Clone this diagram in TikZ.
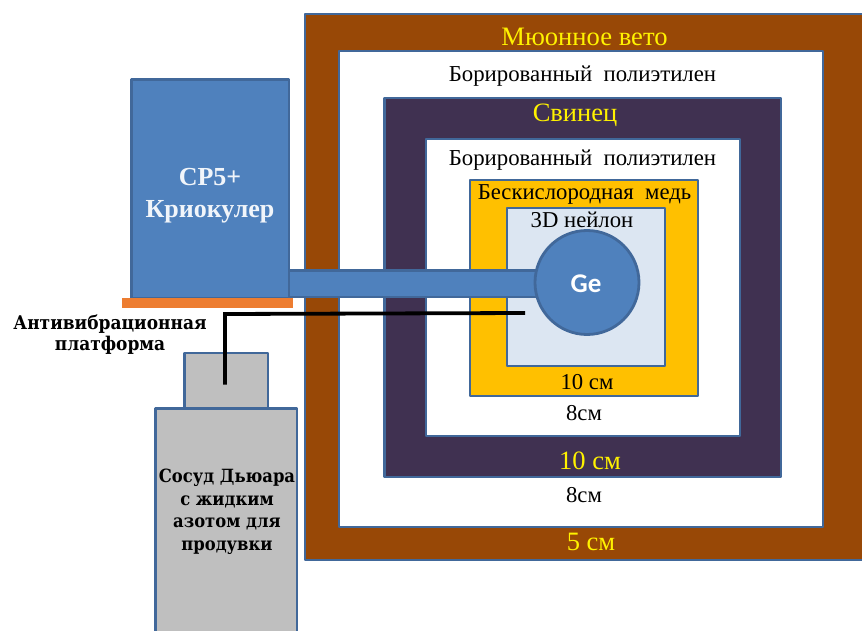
\documentclass[tikz,border=0pt]{standalone}
\usepackage{fontspec}
\setmainfont{Liberation Serif}
\newfontfamily\gefont{Carlito}
\newfontfamily\boldserif[FakeStretch=0.9]{DejaVu Serif}
\definecolor{edge}{HTML}{41689A}
\definecolor{brownv}{HTML}{984806}
\definecolor{purplev}{HTML}{403151}
\definecolor{goldv}{HTML}{FFC000}
\definecolor{paleb}{HTML}{DCE6F2}
\definecolor{blueb}{HTML}{4F81BD}
\definecolor{grayv}{HTML}{BFBFBF}
\definecolor{orangev}{HTML}{ED7D31}
\newcommand{\fs}[2]{\fontsize{#1pt}{#2pt}\selectfont}
\tikzset{x=1pt,y=-1pt,
 slab/.style={draw=edge,line width=2.8pt,line join=round,fill=#1},
 lab/.style={inner sep=0pt,align=center,text=black},
 boldlab/.style={inner sep=0pt,align=center,text=black},
 wire/.style={draw=black,line width=3.8pt}}
\newcommand{\slabbox}[6]{\path[slab=#6] (#2,#3) rectangle (#4,#5) coordinate (#1);}
\begin{document}
\begin{tikzpicture}
\useasboundingbox (0,0) rectangle (862,631);
\clip (0,0) rectangle (862,631);
\slabbox{muon}{305}{14}{864}{560}{brownv}
\slabbox{wa}{339}{51}{823}{527}{white}
\slabbox{lead}{384.5}{98}{781}{477}{purplev}
\slabbox{wb}{426}{139}{740}{436}{white}
\slabbox{cu}{470}{180}{698}{396}{goldv}
\slabbox{ny}{507}{208}{665}{366}{paleb}
\slabbox{neck}{184.5}{353}{268}{408}{grayv}
\slabbox{dewar}{155.5}{408.5}{297}{640}{grayv}
\slabbox{cp}{131.5}{79.5}{289}{298}{blueb}
\slabbox{tube}{289}{270.5}{540}{297}{blueb}
\node[circle,draw=edge,line width=2.8pt,fill=blueb,minimum size=104pt,inner sep=0pt] (ge) at (587,282.5) {};
\node[text=white,inner sep=0pt,font=\gefont\fs{27}{27}\bfseries] (getext) at (586,283.5) {Ge};
\fill[orangev] (122,298) rectangle (293,308) coordinate (plat);
\coordinate (wa1) at (225,314);
\coordinate (wa2) at (525,313);
\coordinate (wa3) at (225,384.5);
\draw[wire] (wa3) -- (wa1) -- (wa2);
\node[lab,text=yellow,font=\fs{26.6}{27}] (t1) at (584.5,37) {Мюонное вето};
\node[lab,font=\fs{22.8}{23}] (t2) at (582.5,76) {Борированный\hspace{.25em} полиэтилен};
\node[lab,text=yellow,font=\fs{26.5}{27}] (t3) at (575,115) {Свинец};
\node[lab,font=\fs{22.8}{23}] (t4) at (582.5,160) {Борированный\hspace{.25em} полиэтилен};
\node[lab,font=\fs{22.7}{23}] (t5) at (584.5,194.5) {Бескислородная\hspace{.25em} медь};
\node[lab,font=\fs{22.7}{23}] (t6) at (582,220) {3D нейлон};
\node[lab,font=\fs{22.7}{23}] (t7) at (587,382.5) {10 см};
\node[lab,font=\fs{22.7}{23}] (t8) at (584,413) {8см};
\node[lab,text=yellow,font=\fs{26.5}{27}] (t9) at (590,461) {10 см};
\node[lab,font=\fs{22.7}{23}] (t10) at (584,495) {8см};
\node[lab,text=yellow,font=\fs{26.5}{27}] (t11) at (591,542) {5 см};
\node[lab,text=white!92!blueb,font=\fs{26}{32}\bfseries] (t12) at (210,196) {CP5+\\Криокулер};
\node[boldlab,font=\boldserif\fs{18.9}{21}\bfseries] (t13) at (110,335) {Антивибрационная\\платформа};
\node[boldlab,font=\boldserif\fs{18.2}{22.5}\bfseries] (t14) at (227,512) {Сосуд Дьюара\\с жидким\\азотом для\\продувки};
\end{tikzpicture}
\end{document}
